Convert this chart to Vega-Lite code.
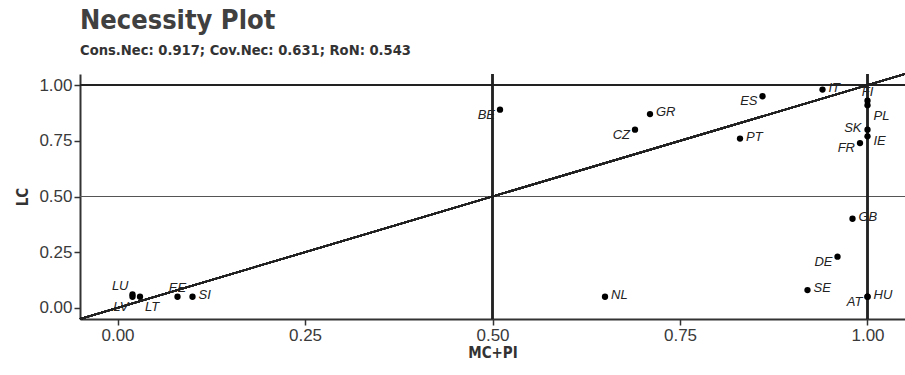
{
  "$schema": "https://vega.github.io/schema/vega-lite/v6.json",
  "width": 825,
  "height": 245,
  "autosize": {"type": "none"},
  "padding": {"left": 80, "top": 74, "right": 0, "bottom": 56},
  "background": "white",
  "title": {
    "text": "Necessity Plot",
    "subtitle": "Cons.Nec: 0.917; Cov.Nec: 0.631; RoN: 0.543",
    "anchor": "start",
    "frame": "group",
    "font": "DejaVu Sans Condensed",
    "fontSize": 27,
    "fontWeight": "bold",
    "color": "#404040",
    "subtitleFont": "DejaVu Sans Condensed",
    "subtitleFontSize": 14.6,
    "subtitleFontWeight": 600,
    "subtitleColor": "#333333",
    "subtitlePadding": 8,
    "offset": 15
  },
  "config": {
    "view": {"stroke": null},
    "axis": {
      "grid": false,
      "domainColor": "#333333",
      "domainWidth": 2,
      "tickColor": "#333333",
      "tickWidth": 1.5,
      "tickSize": 6,
      "labelFont": "Liberation Sans",
      "labelFontSize": 17,
      "labelColor": "#3a3a3a",
      "labelPadding": 2,
      "titleFont": "DejaVu Sans Condensed",
      "titleFontSize": 15,
      "titleFontWeight": "bold",
      "titleColor": "#333333"
    }
  },
  "data": {
    "values": [
      {"id": "AT", "x": 1.0, "y": 0.05},
      {"id": "BE", "x": 0.51, "y": 0.89},
      {"id": "CZ", "x": 0.69, "y": 0.8},
      {"id": "DE", "x": 0.96, "y": 0.23},
      {"id": "EE", "x": 0.08, "y": 0.05},
      {"id": "ES", "x": 0.86, "y": 0.95},
      {"id": "FI", "x": 1.0, "y": 0.93},
      {"id": "FR", "x": 0.99, "y": 0.74},
      {"id": "GB", "x": 0.98, "y": 0.4},
      {"id": "GR", "x": 0.71, "y": 0.87},
      {"id": "HU", "x": 1.0, "y": 0.05},
      {"id": "IE", "x": 1.0, "y": 0.77},
      {"id": "IT", "x": 0.94, "y": 0.98},
      {"id": "LT", "x": 0.03, "y": 0.05},
      {"id": "LU", "x": 0.02, "y": 0.06},
      {"id": "LV", "x": 0.02, "y": 0.05},
      {"id": "NL", "x": 0.65, "y": 0.05},
      {"id": "PL", "x": 1.0, "y": 0.91},
      {"id": "PT", "x": 0.83, "y": 0.76},
      {"id": "SE", "x": 0.92, "y": 0.08},
      {"id": "SI", "x": 0.1, "y": 0.05},
      {"id": "SK", "x": 1.0, "y": 0.8}
    ]
  },
  "encoding": {
    "x": {
      "field": "x", "type": "quantitative", "title": "MC+PI",
      "scale": {"domain": [-0.05, 1.05], "nice": false, "zero": false},
      "axis": {"values": [0, 0.25, 0.5, 0.75, 1], "format": ".2f", "titlePadding": 2}
    },
    "y": {
      "field": "y", "type": "quantitative", "title": "LC",
      "scale": {"domain": [-0.05, 1.05], "nice": false, "zero": false},
      "axis": {"values": [0, 0.25, 0.5, 0.75, 1], "format": ".2f", "titlePadding": 8}
    }
  },
  "layer": [
    {"mark": {"type": "rule", "color": "#222222", "strokeWidth": 1.5}, "encoding": {"y": {"datum": 1}, "x": null}},
    {"mark": {"type": "rule", "color": "#555555", "strokeWidth": 1}, "encoding": {"y": {"datum": 0.5}, "x": null}},
    {"mark": {"type": "rule", "color": "#222222", "strokeWidth": 1.2}, "encoding": {"x": {"datum": 0.5}, "y": null}},
    {"mark": {"type": "rule", "color": "#222222", "strokeWidth": 1.2}, "encoding": {"x": {"datum": 1}, "y": null}},
    {"mark": {"type": "rule", "color": "#222222", "strokeWidth": 1.5}, "encoding": {"x": {"datum": -0.05}, "y": {"datum": -0.05}, "x2": {"datum": 1.05}, "y2": {"datum": 1.05}}},
    {"mark": {"type": "point", "filled": true, "color": "#000000", "size": 40, "opacity": 1}},
    {"transform": [{"filter": {"field": "id", "oneOf": ["GR", "PT", "IT", "GB", "SE", "HU", "NL", "SI"]}}],
     "mark": {"type": "text", "align": "left", "baseline": "middle", "dx": 6, "dy": -2, "font": "Liberation Sans", "fontStyle": "italic", "fontSize": 13, "color": "#222222"},
     "encoding": {"text": {"field": "id"}}},
    {"transform": [{"filter": {"field": "id", "oneOf": ["IE"]}}],
     "mark": {"type": "text", "align": "left", "baseline": "middle", "dx": 6, "dy": 5, "font": "Liberation Sans", "fontStyle": "italic", "fontSize": 13, "color": "#222222"},
     "encoding": {"text": {"field": "id"}}},
    {"transform": [{"filter": {"field": "id", "oneOf": ["PL"]}}],
     "mark": {"type": "text", "align": "left", "baseline": "middle", "dx": 6, "dy": 11, "font": "Liberation Sans", "fontStyle": "italic", "fontSize": 13, "color": "#222222"},
     "encoding": {"text": {"field": "id"}}},
    {"transform": [{"filter": {"field": "id", "oneOf": ["LT"]}}],
     "mark": {"type": "text", "align": "left", "baseline": "middle", "dx": 5, "dy": 10, "font": "Liberation Sans", "fontStyle": "italic", "fontSize": 13, "color": "#222222"},
     "encoding": {"text": {"field": "id"}}},
    {"transform": [{"filter": {"field": "id", "oneOf": ["BE", "CZ", "ES", "FR", "DE", "AT"]}}],
     "mark": {"type": "text", "align": "right", "baseline": "middle", "dx": -5, "dy": 5, "font": "Liberation Sans", "fontStyle": "italic", "fontSize": 13, "color": "#222222"},
     "encoding": {"text": {"field": "id"}}},
    {"transform": [{"filter": {"field": "id", "oneOf": ["SK"]}}],
     "mark": {"type": "text", "align": "right", "baseline": "middle", "dx": -6, "dy": -2, "font": "Liberation Sans", "fontStyle": "italic", "fontSize": 13, "color": "#222222"},
     "encoding": {"text": {"field": "id"}}},
    {"transform": [{"filter": {"field": "id", "oneOf": ["FI", "EE"]}}],
     "mark": {"type": "text", "align": "center", "baseline": "middle", "dx": 0, "dy": -9, "font": "Liberation Sans", "fontStyle": "italic", "fontSize": 13, "color": "#222222"},
     "encoding": {"text": {"field": "id"}}},
    {"transform": [{"filter": {"field": "id", "oneOf": ["LU"]}}],
     "mark": {"type": "text", "align": "right", "baseline": "middle", "dx": -4, "dy": -9, "font": "Liberation Sans", "fontStyle": "italic", "fontSize": 13, "color": "#222222"},
     "encoding": {"text": {"field": "id"}}},
    {"transform": [{"filter": {"field": "id", "oneOf": ["LV"]}}],
     "mark": {"type": "text", "align": "right", "baseline": "middle", "dx": -4, "dy": 10, "font": "Liberation Sans", "fontStyle": "italic", "fontSize": 13, "color": "#222222"},
     "encoding": {"text": {"field": "id"}}}
  ]
}
